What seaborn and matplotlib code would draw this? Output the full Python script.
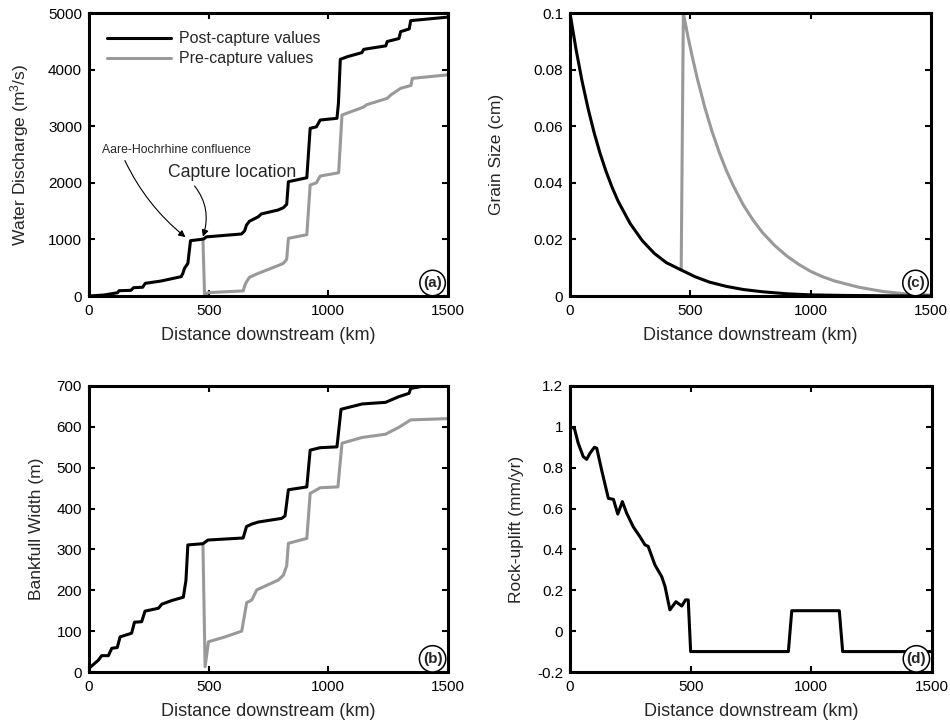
import matplotlib
matplotlib.use("Agg")
import matplotlib.pyplot as plt
import seaborn as sns
import pandas as pd
from matplotlib.ticker import FuncFormatter

# ---------------- data ----------------
# (a) water discharge, m^3/s
a_post_x = [0, 63, 119, 126, 175, 186, 224, 235, 301, 385, 392, 399, 413, 424, 469, 480, 490,
            637, 650, 658, 670, 707, 720, 790, 812, 826, 833, 910, 924, 950, 966, 1036, 1042,
            1050, 1080, 1140, 1148, 1240, 1246, 1295, 1302, 1338, 1344, 1491, 1500]
a_post_y = [0, 18, 58, 94, 100, 147, 155, 224, 265, 342, 400, 489, 577, 978, 1001, 1010, 1045,
            1096, 1150, 1254, 1320, 1400, 1450, 1520, 1560, 1620, 2020, 2090, 2963, 2990, 3110, 3140, 3400,
            4182, 4230, 4300, 4359, 4420, 4497, 4550, 4671, 4720, 4866, 4925, 4930]
a_pre_x = [476, 483, 497, 644, 652, 658, 670, 707, 791, 812, 826, 833, 910, 924, 950, 966,
           1043, 1057, 1148, 1160, 1246, 1260, 1302, 1345, 1351, 1491, 1500]
a_pre_y = [1005, 0, 60, 90, 200, 250, 330, 400, 540, 577, 650, 1019, 1083, 1961, 2000, 2120,
           2178, 3198, 3340, 3380, 3493, 3550, 3670, 3720, 3846, 3905, 3910]

# (b) bankfull width, m
b_post_x = [0, 39, 53, 81, 95, 118, 130, 178, 190, 220, 234, 290, 304, 346, 394, 405, 413,
            476, 497, 644, 658, 680, 707, 805, 819, 833, 910, 924, 966, 1036, 1053, 1141,
            1239, 1295, 1337, 1344, 1400, 1500]
b_post_y = [9, 29, 40, 40, 58, 60, 86, 95, 122, 123, 149, 156, 166, 175, 183, 224, 311,
            314, 323, 328, 356, 362, 367, 376, 382, 446, 453, 543, 549, 551, 643, 656,
            660, 674, 682, 694, 700, 700]
b_pre_x = [476, 485, 499, 569, 638, 659, 680, 701, 791, 812, 826, 833, 910, 924, 966, 1040,
           1057, 1141, 1239, 1295, 1344, 1491, 1500]
b_pre_y = [314, 13, 74, 86, 100, 170, 176, 201, 225, 237, 260, 315, 327, 437, 451, 453,
           560, 574, 582, 599, 617, 620, 621]

# (c) grain size, cm
c_post_x = [0, 25, 50, 75, 100, 125, 150, 175, 200, 250, 300, 350, 400, 462, 520, 580, 650,
            720, 800, 900, 1000, 1150, 1300, 1500]
c_post_y = [0.1, 0.0872, 0.0760, 0.0663, 0.0578, 0.0504, 0.0440, 0.0384, 0.0335, 0.0256,
            0.0196, 0.0151, 0.0118, 0.0092, 0.0068, 0.0049, 0.0034, 0.0023, 0.0015, 0.0008,
            0.0004, 0.0002, 0.0001, 0.0]
c_pre_x = [462, 471, 490, 510, 530, 560, 590, 620, 650, 680, 720, 760, 800, 850, 900, 950,
           1000, 1050, 1100, 1200, 1300, 1400, 1500]
c_pre_y = [0.0092, 0.1, 0.0917, 0.0838, 0.0765, 0.0667, 0.0582, 0.0508, 0.0443, 0.0387,
           0.0322, 0.0269, 0.0224, 0.0179, 0.0142, 0.0112, 0.0087, 0.0068, 0.0053, 0.0031,
           0.0016, 0.0007, 0.0003]

# (d) rock uplift, mm/yr
d_x = [0, 18, 34, 55, 69, 83, 101, 111, 131, 159, 180, 198, 217, 235, 262, 290, 311, 324,
       352, 380, 394, 414, 439, 463, 479, 490, 500, 905, 919, 1116, 1130, 1500]
d_y = [1.0, 0.993, 0.92, 0.854, 0.841, 0.871, 0.90, 0.895, 0.789, 0.650, 0.645, 0.573, 0.634,
       0.577, 0.511, 0.462, 0.422, 0.415, 0.324, 0.267, 0.218, 0.104, 0.144, 0.123, 0.153, 0.153,
       -0.1, -0.1, 0.1, 0.1, -0.1, -0.1]

x_ticks = [0, 500, 1000, 1500]
series_labels = ["Post-capture values", "Pre-capture values"]
panel_labels = ["(a)", "(b)", "(c)", "(d)"]
xlabel = "Distance downstream (km)"
ylabels = ["Water Discharge (m$^3$/s)", "Bankfull Width (m)", "Grain Size (cm)", "Rock-uplift (mm/yr)"]

# ---------------- styling ----------------
sns.set_style("ticks")
plt.rcParams["font.family"] = ["Liberation Sans", "DejaVu Sans"]
plt.rcParams["mathtext.fontset"] = "custom"
plt.rcParams["mathtext.rm"] = "Liberation Sans"
plt.rcParams["mathtext.it"] = "Liberation Sans:italic"

BLACK = "#000000"
GRAY = "#999999"
LW = 2.2

fig = plt.figure(figsize=(9.5, 7.25), dpi=100)
ax_a = fig.add_axes([0.0937, 0.5917, 0.3779, 0.3903])
ax_b = fig.add_axes([0.0937, 0.0731, 0.3779, 0.3945])
ax_c = fig.add_axes([0.6000, 0.5917, 0.3800, 0.3903])
ax_d = fig.add_axes([0.6000, 0.0731, 0.3810, 0.3945])


def line(ax, x, y, color, label=None, z=2):
    df = pd.DataFrame({"x": x, "y": y})
    sns.lineplot(data=df, x="x", y="y", ax=ax, color=color, lw=LW, sort=False,
                 estimator=None, label=label, zorder=z, legend=False)


line(ax_a, a_post_x, a_post_y, BLACK, series_labels[0], z=3)
line(ax_a, a_pre_x, a_pre_y, GRAY, series_labels[1], z=2)
line(ax_b, b_post_x, b_post_y, BLACK, z=3)
line(ax_b, b_pre_x, b_pre_y, GRAY, z=2)
line(ax_c, c_post_x, c_post_y, BLACK, z=3)
line(ax_c, c_pre_x, c_pre_y, GRAY, z=2)
line(ax_d, d_x, d_y, BLACK, z=3)

panels = [
    (ax_a, (0, 5000), list(range(0, 5001, 1000)), "%d", ylabels[0], panel_labels[0], -0.162),
    (ax_b, (0, 700), list(range(0, 701, 100)), "%d", ylabels[1], panel_labels[1], -0.125),
    (ax_c, (0, 0.1), [0, 0.02, 0.04, 0.06, 0.08, 0.1], "%g", ylabels[2], panel_labels[2], -0.183),
    (ax_d, (-0.2, 1.2), [-0.2, 0, 0.2, 0.4, 0.6, 0.8, 1.0, 1.2], "%g", ylabels[3], panel_labels[3], -0.127),
]
for ax, yl, yt, fmt, ylab, plab, ylx in panels:
    ax.set_xlim(0, 1500)
    ax.set_ylim(*yl)
    ax.set_xticks(x_ticks)
    ax.set_yticks(yt)
    ax.yaxis.set_major_formatter(FuncFormatter(lambda v, p, f=fmt: (f % (0 if abs(v) < 1e-12 else v))))
    ax.set_xlabel(xlabel, fontsize=13, labelpad=6)
    ax.set_ylabel(ylab, fontsize=12.5)
    ax.yaxis.set_label_coords(ylx, 0.5)
    ax.tick_params(direction="in", top=True, right=True, length=4, width=1.5,
                   labelsize=11, colors="black")
    ax.tick_params(axis="x", pad=6)
    ax.tick_params(axis="y", pad=5)
    for s in ax.spines.values():
        s.set_visible(True)
        s.set_linewidth(2.2)
        s.set_color("black")
    ax.text(0.957, 0.046, plab, transform=ax.transAxes, ha="center", va="center",
            fontsize=11, fontweight="bold", zorder=10,
            bbox=dict(boxstyle="circle,pad=0.22", fc="white", ec="black", lw=1.1))

# legend
ax_a.legend(loc="upper left", bbox_to_anchor=(0.02, 0.975), frameon=False, fontsize=11.5,
            handlelength=4.0, handletextpad=0.5, labelspacing=0.3, borderaxespad=0.3)

# annotations
ax_a.annotate("Aare-Hochrhine confluence", xy=(403, 1040), xytext=(54, 2580),
              fontsize=8.8, ha="left", va="center",
              arrowprops=dict(arrowstyle="-|>", color="black", lw=0.8, mutation_scale=10,
                              shrinkA=1, shrinkB=0, relpos=(0.14, 0.0),
                              connectionstyle="arc3,rad=0.12"))
ax_a.annotate("Capture location", xy=(476, 1048), xytext=(330, 2191),
              fontsize=12.7, ha="left", va="center",
              arrowprops=dict(arrowstyle="-|>", color="black", lw=0.8, mutation_scale=10,
                              shrinkA=2, shrinkB=0, relpos=(0.17, 0.0),
                              connectionstyle="arc3,rad=-0.3"))

fig.savefig("out.png", dpi=100)
